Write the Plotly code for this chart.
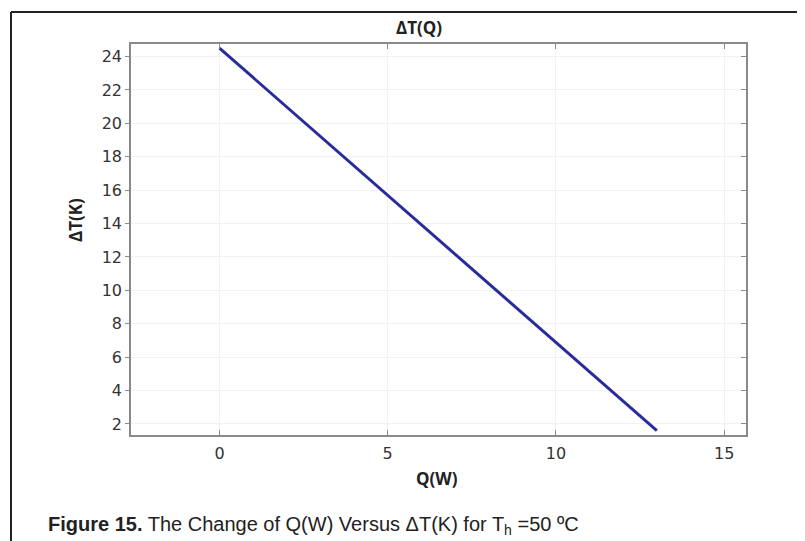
import plotly.graph_objects as go

# Data
q_watts = [0.0, 13.0]
delta_t_kelvin = [24.5, 1.6]
x_ticks = [0, 5, 10, 15]
y_ticks = [2, 4, 6, 8, 10, 12, 14, 16, 18, 20, 22, 24]

W, H = 805, 541
ML, MR, MT, MB = 123, 67, 36, 114
PW, PH = W - ML - MR, H - MT - MB

def px(x):
    return (x - ML) / PW

def py(y):
    return (H - MB - y) / PH

fig = go.Figure()
fig.add_trace(go.Scatter(x=q_watts, y=delta_t_kelvin, mode="lines",
                         line=dict(color="#2a2c9a", width=3), showlegend=False))
# companion trace for the right-hand tick axis
fig.add_trace(go.Scatter(x=q_watts, y=delta_t_kelvin, mode="lines", yaxis="y2",
                         line=dict(width=0), hoverinfo="skip", showlegend=False, opacity=0))

tickfont = dict(family="DejaVu Sans", size=16, color="#333333")
axis_col = "#8a8a8a"
fig.update_layout(
    width=W, height=H,
    margin=dict(l=ML, r=MR, t=MT, b=MB),
    paper_bgcolor="white", plot_bgcolor="white",
    font=dict(family="DejaVu Sans", color="#222222"),
    xaxis=dict(range=[-2.63, 15.65], tickvals=x_ticks, ticks="inside", ticklen=5,
               tickcolor=axis_col, showline=True, linecolor=axis_col, linewidth=1.5,
               mirror="ticks", showgrid=True, gridcolor="#f2f2f2", zeroline=False,
               tickfont=tickfont, ticklabelstandoff=3),
    yaxis=dict(range=[1.34, 24.75], tickvals=y_ticks, ticks="outside", ticklen=4,
               tickcolor=axis_col, showline=True, linecolor=axis_col, linewidth=1.5,
               mirror=True, showgrid=True, gridcolor="#f2f2f2", zeroline=False,
               tickfont=tickfont),
    yaxis2=dict(range=[1.34, 24.75], tickvals=y_ticks, ticks="inside", ticklen=5,
                tickcolor=axis_col, overlaying="y", side="right", showticklabels=False,
                showgrid=False, zeroline=False, showline=False),
)

bold = "Open Sans"
tfont = dict(family=bold, size=17, color="#222222")
annotations = [
    dict(text="<b>ΔT(Q)</b>", x=px(411), y=py(19), xref="paper", yref="paper",
         xanchor="center", yanchor="middle", showarrow=False, font=tfont),
    dict(text="<b>Q(W)</b>", x=px(429), y=py(470), xref="paper", yref="paper",
         xanchor="center", yanchor="middle", showarrow=False, font=tfont),
    dict(text="<b>ΔT(K)</b>", x=px(67), y=py(212), xref="paper", yref="paper",
         xanchor="center", yanchor="middle", showarrow=False, textangle=-90, font=tfont),
    dict(text="<b>Figure 15.</b> The Change of Q(W) Versus ΔT(K) for T<sub>h</sub> =50 ºC",
         x=px(38), y=py(517), xref="paper", yref="paper", xanchor="left", yanchor="middle",
         showarrow=False, font=dict(family="Liberation Sans Narrow, Liberation Sans", size=20,
                                    color="#222222")),
]
fig.update_layout(annotations=annotations)

# outer frame (left and top edges)
fig.add_shape(type="line", xref="paper", yref="paper", x0=px(3), y0=py(541), x1=px(3), y1=py(4),
              line=dict(color="#222222", width=2))
fig.add_shape(type="line", xref="paper", yref="paper", x0=px(3), y0=py(4), x1=px(805), y1=py(4),
              line=dict(color="#222222", width=2))

fig.write_html("out.html")
